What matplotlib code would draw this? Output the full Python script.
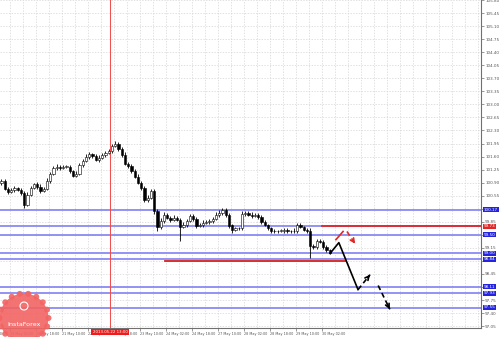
import numpy as np
import matplotlib
matplotlib.use("Agg")
import matplotlib.pyplot as plt
import matplotlib.transforms as mtransforms
from matplotlib.patches import Circle

# 2-hour bars, USDJPY-like
closes = [100.95, 100.74, 100.66, 100.71, 100.76, 100.71, 100.63, 100.31, 100.58, 100.76,
          100.87, 100.79, 100.68, 100.74, 100.95, 101.14, 101.30, 101.33, 101.30, 101.33,
          101.33, 101.22, 101.09, 101.14, 101.38, 101.49, 101.59, 101.67, 101.62, 101.51,
          101.57, 101.65, 101.70, 101.75, 101.89, 101.94, 101.81, 101.65, 101.41, 101.35,
          101.22, 101.06, 100.90, 100.76, 100.44, 100.50, 100.68, 100.15, 99.72, 99.88,
          100.04, 99.96, 99.91, 99.96, 99.91, 99.72, 99.77, 99.88, 100.01, 99.93,
          99.75, 99.77, 99.83, 99.85, 99.88, 99.93, 100.04, 100.09, 100.17, 100.04,
          99.75, 99.64, 99.67, 99.67, 100.07, 100.09, 100.04, 100.01, 100.04, 99.99,
          99.85, 99.77, 99.67, 99.61, 99.59, 99.61, 99.61, 99.64, 99.59, 99.59,
          99.61, 99.77, 99.72, 99.64, 99.61, 99.21, 99.18, 99.34, 99.32, 99.18,
          99.08, 99.02]
first_open = 100.88

wick_up = [0.04, 0.06, 0.03, 0.05, 0.04, 0.03, 0.05, 0.04, 0.06, 0.05,
           0.03, 0.04, 0.06, 0.05, 0.07, 0.05, 0.04, 0.06, 0.03, 0.05,
           0.04, 0.05, 0.03, 0.06, 0.05, 0.04, 0.07, 0.05, 0.03, 0.04,
           0.06, 0.05, 0.04, 0.06, 0.05, 0.08, 0.05, 0.04, 0.06, 0.05,
           0.04, 0.05, 0.06, 0.04, 0.05, 0.07, 0.06, 0.04, 0.05, 0.08,
           0.06, 0.04, 0.05, 0.06, 0.04, 0.05, 0.07, 0.05, 0.06, 0.04,
           0.05, 0.04, 0.06, 0.05, 0.04, 0.05, 0.06, 0.07, 0.05, 0.04,
           0.05, 0.04, 0.03, 0.05, 0.06, 0.05, 0.04, 0.06, 0.05, 0.04,
           0.05, 0.04, 0.03, 0.04, 0.05, 0.03, 0.04, 0.05, 0.03, 0.04,
           0.06, 0.05, 0.04, 0.03, 0.05, 0.06, 0.04, 0.05, 0.04, 0.05,
           0.04, 0.03]
wick_dn = [0.05, 0.04, 0.06, 0.03, 0.05, 0.04, 0.06, 0.08, 0.04, 0.05,
           0.04, 0.06, 0.05, 0.04, 0.03, 0.05, 0.04, 0.05, 0.06, 0.04,
           0.05, 0.06, 0.05, 0.04, 0.03, 0.05, 0.04, 0.06, 0.05, 0.04,
           0.05, 0.04, 0.06, 0.04, 0.05, 0.04, 0.06, 0.05, 0.04, 0.06,
           0.05, 0.04, 0.05, 0.06, 0.07, 0.05, 0.04, 0.10, 0.11, 0.06,
           0.05, 0.04, 0.06, 0.05, 0.04, 0.38, 0.05, 0.06, 0.04, 0.05,
           0.06, 0.04, 0.05, 0.04, 0.06, 0.05, 0.04, 0.05, 0.06, 0.05,
           0.07, 0.08, 0.05, 0.04, 0.05, 0.06, 0.04, 0.05, 0.04, 0.06,
           0.05, 0.04, 0.05, 0.06, 0.04, 0.05, 0.04, 0.06, 0.05, 0.04,
           0.05, 0.06, 0.04, 0.05, 0.05, 0.32, 0.06, 0.05, 0.04, 0.06,
           0.05, 0.04]

# horizontal levels
blue_levels = [100.17, 99.73, 99.50, 99.00, 98.84, 98.11, 97.93, 97.55]
red_level_hi = 99.73
red_hi_start = 98.6
red_level_lo = 98.81
red_lo_span = [50.3, 105.7]

marker_bar = 33.4
marker_label = "2013.05.22 13:00"

# forecast drawings
black_solid_x = [101.1, 103.8, 109.7]
black_solid_y = [99.00, 99.29, 98.03]
black_dash1_x = [109.7, 113.4]
black_dash1_y = [98.03, 98.43]
black_dash2_x = [115.9, 119.5]
black_dash2_y = [98.14, 97.50]
red_solid_x = [102.9, 105.1]
red_solid_y = [99.37, 99.59]
red_dash_x = [106.3, 108.8]
red_dash_y = [99.59, 99.26]

first_label = "17 May 10:00"
time_labels = ["20 May 02:00", "20 May 18:00", "21 May 10:00",
               "22 May 02:00", "22 May 18:00", "23 May 10:00", "24 May 02:00",
               "24 May 18:00", "27 May 10:00", "28 May 02:00", "28 May 18:00",
               "29 May 10:00", "30 May 02:00"]
time_ticks = [2.5 + 8 * k for k in range(len(time_labels))]

y_ticks = np.round(np.arange(97.05, 105.81, 0.35), 2)

XLIM = (-0.46, 147.54)
YLIM = (97.00, 105.80)

fig = plt.figure(figsize=(4.99, 3.37), dpi=100)
fig.patch.set_facecolor("white")
ax = fig.add_axes([0, 9 / 337, 481 / 499, 328 / 337])

# grid
ax.set_yticks(y_ticks)
ax.set_yticklabels([f"{v:.2f}" for v in y_ticks])
ax.set_xticks(time_ticks)
ax.set_xticklabels(time_labels)
ax.set_xticks([-1.5 + 4 * k for k in range(1, 38)], minor=True)
ax.grid(True, which="both", color="#d4d4d4", linestyle=(0, (2, 2)), linewidth=0.5)
ax.set_axisbelow(True)

# candles
opens = [first_open] + closes[:-1]
idx = np.arange(len(closes))
for i, o, c, wu, wd in zip(idx, opens, closes, wick_up, wick_dn):
    top = max(o, c)
    bot = min(o, c)
    ax.vlines(i, bot - wd, top + wu, color="black", linewidth=0.6, zorder=3)
    face = "white" if c >= o else "black"
    ax.bar(i, max(top - bot, 0.012), bottom=bot, width=0.62, color=face,
           edgecolor="black", linewidth=0.4, zorder=4)

# levels
for lv in blue_levels:
    ax.axhline(lv, color="#8a8af2", linewidth=1.3, zorder=2)
ax.plot([red_hi_start, XLIM[1]], [red_level_hi, red_level_hi],
        color="#e32626", linewidth=1.3, zorder=2.5)
ax.plot(red_lo_span, [red_level_lo, red_level_lo], color="#d42020",
        linewidth=1.3, zorder=2.5)
ax.axvline(marker_bar, color="#f24a4a", linewidth=0.7, zorder=2)

# forecast arrows
ax.plot(black_solid_x, black_solid_y, color="black", linewidth=1.2, zorder=5)
for xs, ys, col in [(black_dash1_x, black_dash1_y, "black"),
                    (black_dash2_x, black_dash2_y, "black"),
                    (red_dash_x, red_dash_y, "#e32626")]:
    ax.plot(xs, ys, color=col, linewidth=1.2, linestyle=(0, (3, 2)), zorder=5)
    ax.annotate("", xy=(xs[1], ys[1]),
                xytext=(xs[1] - (xs[1] - xs[0]) * 0.2, ys[1] - (ys[1] - ys[0]) * 0.2),
                arrowprops=dict(arrowstyle="->", color=col, lw=1.2,
                                mutation_scale=7, shrinkA=0, shrinkB=0), zorder=5)
ax.plot(red_solid_x, red_solid_y, color="#e32626", linewidth=1.2, zorder=5)

ax.set_xlim(*XLIM)
ax.set_ylim(*YLIM)

# axes styling
for side in ["left", "top"]:
    ax.spines[side].set_visible(False)
for side in ["right", "bottom"]:
    ax.spines[side].set_color("#707070")
    ax.spines[side].set_linewidth(0.8)
ax.yaxis.tick_right()
ax.tick_params(axis="y", which="major", length=2, width=0.5, colors="#707070",
               labelsize=3.0, labelcolor="#555555", pad=1.0)
ax.tick_params(axis="x", which="major", length=2, width=0.5, colors="#707070",
               labelsize=2.4, labelcolor="#555555", pad=1.2)
ax.tick_params(axis="x", which="minor", length=0)
for lab in ax.get_xticklabels():
    lab.set_horizontalalignment("left")

trans_x = mtransforms.blended_transform_factory(ax.transData, ax.transAxes)
ax.text(-5.5, -0.013, first_label, transform=trans_x, fontsize=2.4, color="#555555",
        ha="left", va="top", clip_on=False)

# boxed prices on the right scale
trans_y = mtransforms.blended_transform_factory(ax.transAxes, ax.transData)
for lv in blue_levels:
    fc = "#e32626" if lv == red_level_hi else "#2323e0"
    ax.text(1.006, lv, f"{lv:.2f}", transform=trans_y, fontsize=3.0, color="white",
            va="center", ha="left", clip_on=False, zorder=10,
            bbox=dict(boxstyle="square,pad=0.12", fc=fc, ec="none"))

ax.text(marker_bar, -0.006, marker_label, transform=trans_x, fontsize=2.8,
        color="white", ha="center", va="top", clip_on=False, zorder=10,
        bbox=dict(boxstyle="square,pad=0.35", fc="#ee1c1c", ec="none"))

# InstaForex badge
badge_c = (0.24, 0.19)
badge = Circle(badge_c, 0.245, transform=fig.dpi_scale_trans, fc="#f26464",
               ec="none", alpha=0.9, zorder=20)
fig.patches.append(badge)
for a in np.linspace(0, 2 * np.pi, 18, endpoint=False):
    fig.patches.append(Circle((badge_c[0] + 0.245 * np.cos(a), badge_c[1] + 0.245 * np.sin(a)),
                              0.03, transform=fig.dpi_scale_trans, fc="#f26464",
                              ec="none", alpha=0.9, zorder=20))
fig.patches.append(Circle((0.24, 0.31), 0.04, transform=fig.dpi_scale_trans, fc="none",
                          ec="white", lw=0.8, zorder=21))
fig.text(0.24, 0.13, "InstaForex", transform=fig.dpi_scale_trans, fontsize=4.6,
         color="white", ha="center", va="center", zorder=22)

fig.savefig("out.png", dpi=100)
